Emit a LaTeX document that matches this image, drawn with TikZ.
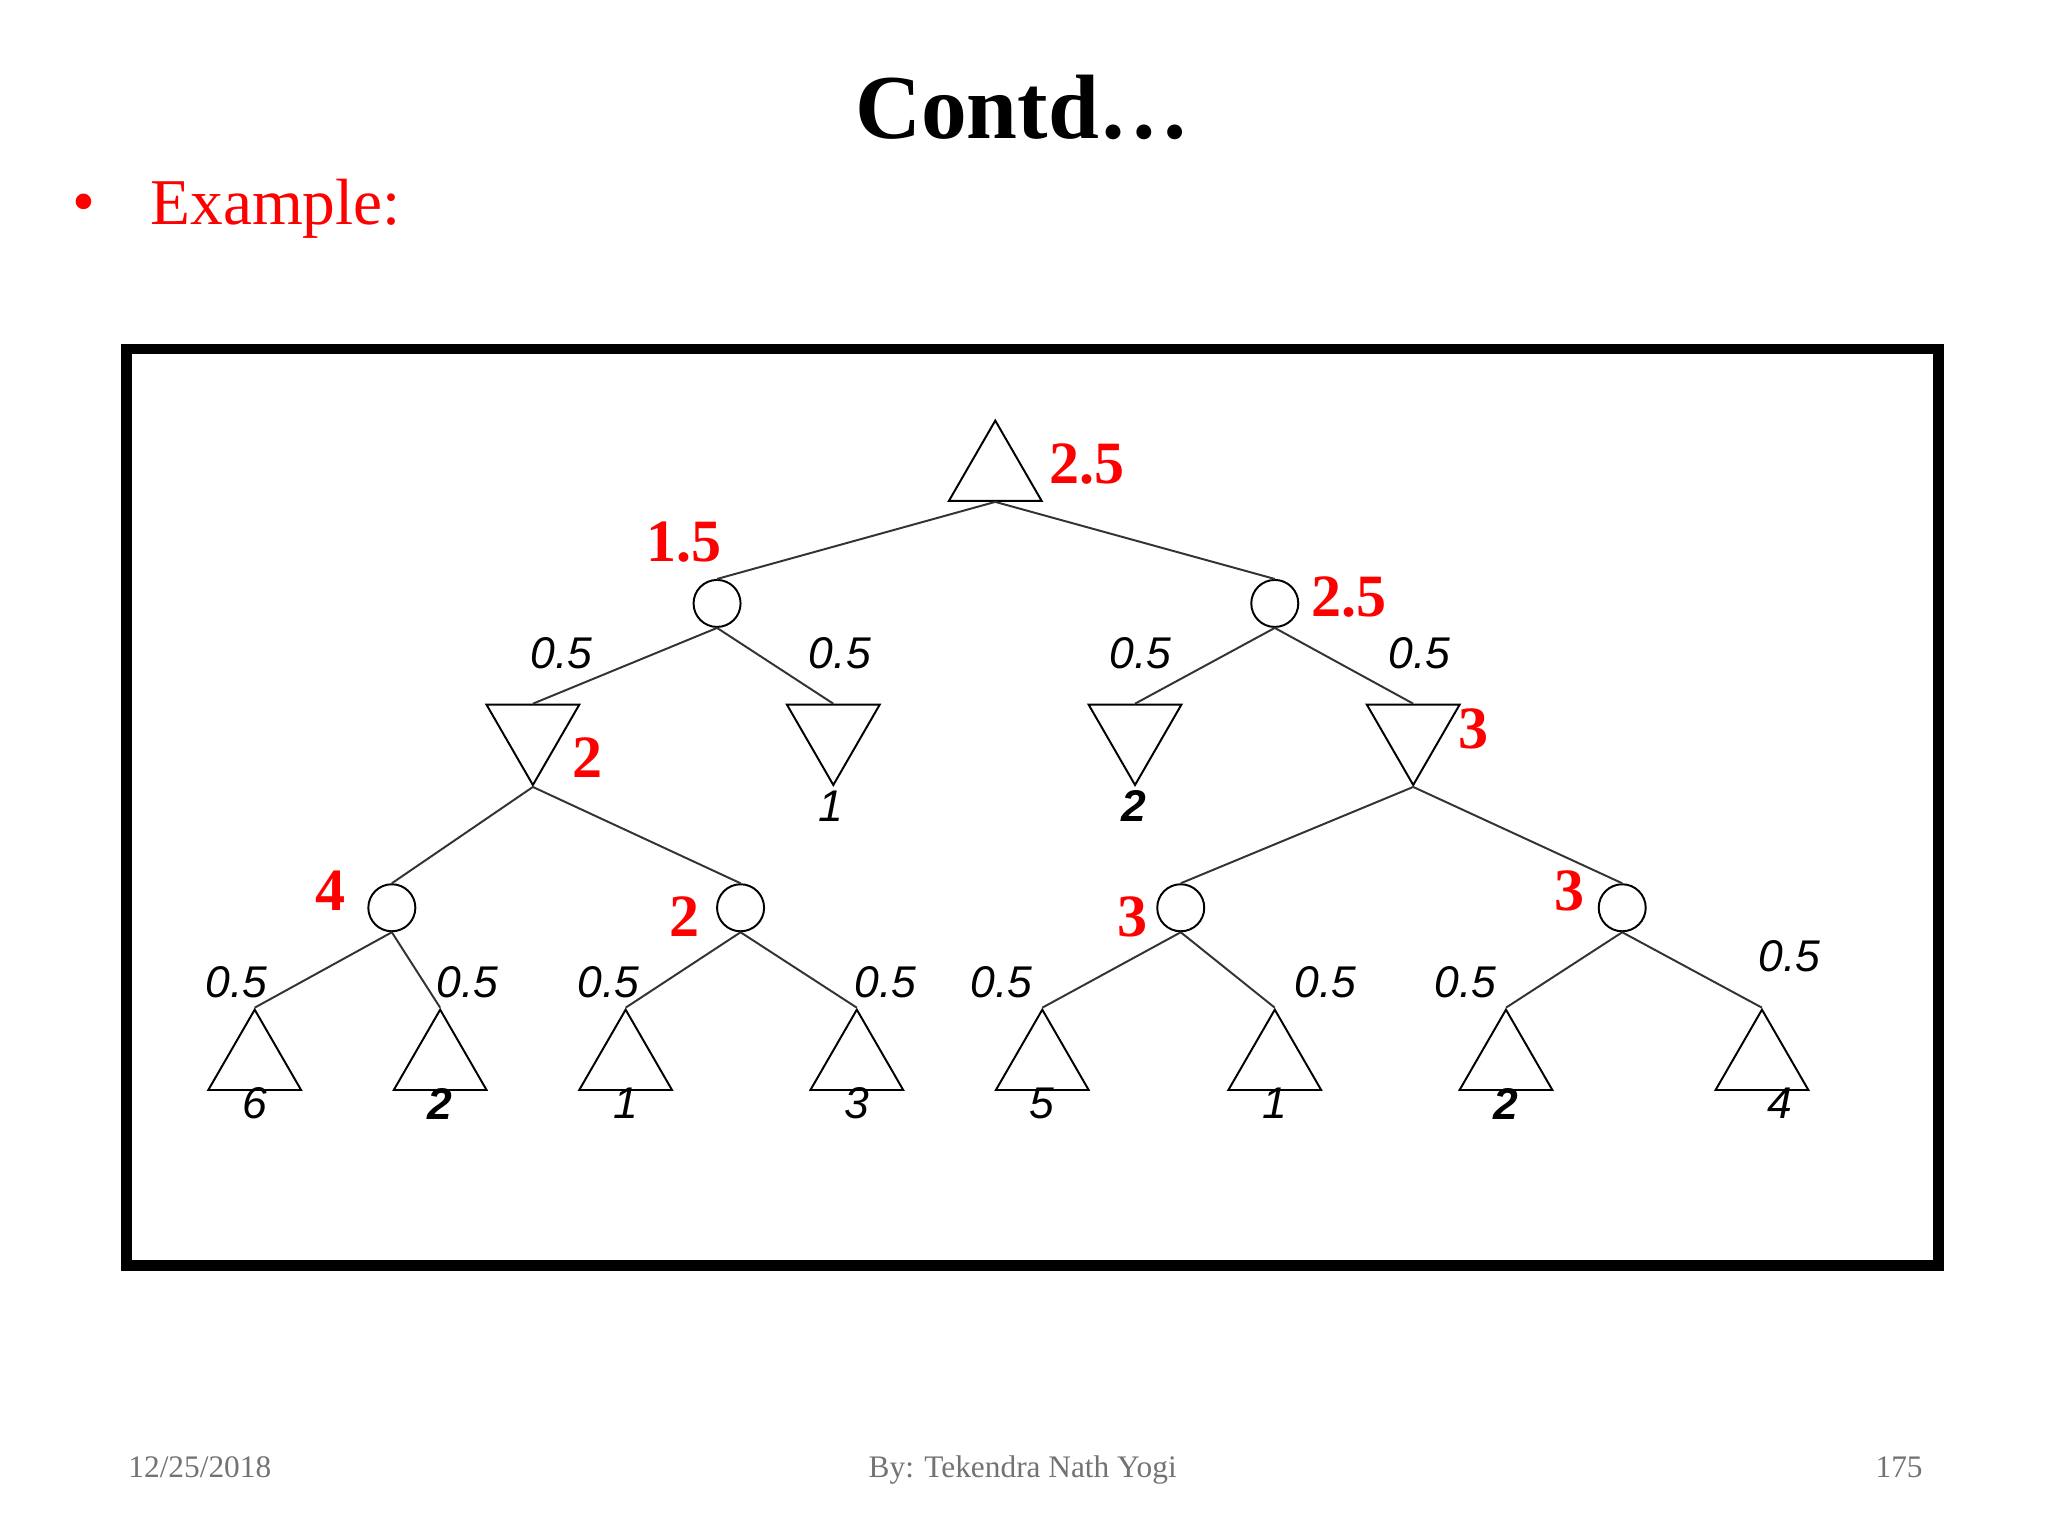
\documentclass[tikz,border=0pt]{standalone}
\usepackage{fontspec}
\setmainfont{Liberation Serif}
\newfontfamily\lsans{Liberation Sans}
\usetikzlibrary{shapes.geometric}
\begin{document}
\begin{tikzpicture}[x=1pt,y=-1pt,
 maxn/.style={regular polygon,regular polygon sides=3,draw,line width=1.5pt,minimum size=82pt,inner sep=0pt},
 minn/.style={maxn,shape border rotate=180},
 chance/.style={circle,draw,line width=1.5pt,minimum size=36pt,inner sep=0pt},
 edge/.style={line width=1.5pt,draw=black!80},
 prob/.style={font=\lsans\itshape\fontsize{34}{34}\selectfont},
 val/.style={font=\lsans\itshape\fontsize{34}{34}\selectfont},
 red/.style={text=red,font=\bfseries\fontsize{46}{46}\selectfont},
 foot/.style={text=black!55,font=\fontsize{24}{24}\selectfont,anchor=base}]
\useasboundingbox (0,0) rectangle (1568,1176);
\fill[white] (0,0) rectangle (1568,1176);
\node[font=\bfseries\fontsize{70}{70}\selectfont] (title) at (783,82) {Contd…};
\node[text=red,font=\fontsize{50}{50}\selectfont] (bul) at (64,160) {•};
\node[text=red,font=\fontsize{50}{50}\selectfont,anchor=west,inner sep=0] (ex) at (115,160) {Example:};
\draw[line width=8pt] (97,267) rectangle (1484,969);
% nodes
\node[maxn] (r) at (762,363) {};
\node[chance] (c1) at (549,462) {};
\node[chance] (c2) at (976,462) {};
\node[minn] (m1) at (408,560) {};
\node[minn] (m2) at (638,560) {};
\node[minn] (m3) at (869,560) {};
\node[minn] (m4) at (1082,560) {};
\node[chance] (d1) at (300,695) {};
\node[chance] (d2) at (567,695) {};
\node[chance] (d3) at (904,695) {};
\node[chance] (d4) at (1242,695) {};
\foreach \n/\x in {1/195,2/337,3/479,4/656,5/798,6/976,7/1153,8/1349}
  \node[maxn] (l\n) at (\x,814) {};
% edges
\draw[edge] (r.side 2) -- (c1.north) (r.side 2) -- (c2.north);
\draw[edge] (c1.south) -- (m1.side 2) (c1.south) -- (m2.side 2);
\draw[edge] (c2.south) -- (m3.side 2) (c2.south) -- (m4.side 2);
\draw[edge] (m1.corner 1) -- (d1.north) (m1.corner 1) -- (d2.north);
\draw[edge] (m4.corner 1) -- (d3.north) (m4.corner 1) -- (d4.north);
\draw[edge] (d1.south) -- (l1.corner 1) (d1.south) -- (l2.corner 1);
\draw[edge] (d2.south) -- (l3.corner 1) (d2.south) -- (l4.corner 1);
\draw[edge] (d3.south) -- (l5.corner 1) (d3.south) -- (l6.corner 1);
\draw[edge] (d4.south) -- (l7.corner 1) (d4.south) -- (l8.corner 1);
% probabilities
\foreach \i/\x/\y in {1/430/500,2/643/500,3/873/500,4/1087/500,5/181/752,6/358/752,7/466/752,8/678/752,9/767/752,10/1015/752,11/1122/752,12/1370/732}
  \node[prob] (p\i) at (\x,\y) {0.5};
% values
\node[val] (v1) at (195,845) {6};
\node[val,font=\lsans\bfseries\itshape\fontsize{34}{34}\selectfont] (v2) at (337,845) {2};
\node[val] (v3) at (479,845) {1};
\node[val] (v4) at (656,845) {3};
\node[val] (v5) at (798,845) {5};
\node[val] (v6) at (976,845) {1};
\node[val,font=\lsans\bfseries\itshape\fontsize{34}{34}\selectfont] (v7) at (1153,845) {2};
\node[val] (v8) at (1363,845) {4};
\node[val] (vm2) at (636,617) {1};
\node[val,font=\lsans\bfseries\itshape\fontsize{34}{34}\selectfont] (vm3) at (868,617) {2};
% red backed-up values
\node[red] (a1) at (832,355) {2.5};
\node[red] (a2) at (524,415) {1.5};
\node[red] (a3) at (1033,457) {2.5};
\node[red] (a4) at (450,580) {2};
\node[red] (a5) at (1128,558) {3};
\node[red] (a6) at (253,682) {4};
\node[red] (a7) at (524,702) {2};
\node[red] (a8) at (867,702) {3};
\node[red] (a9) at (1202,682) {3};
% footer
\node[foot] (f1) at (153,1131) {12/25/2018};
\node[foot] (f2) at (783,1131) {By: Tekendra Nath Yogi};
\node[foot] (f3) at (1454,1131) {175};
\end{tikzpicture}
\end{document}
